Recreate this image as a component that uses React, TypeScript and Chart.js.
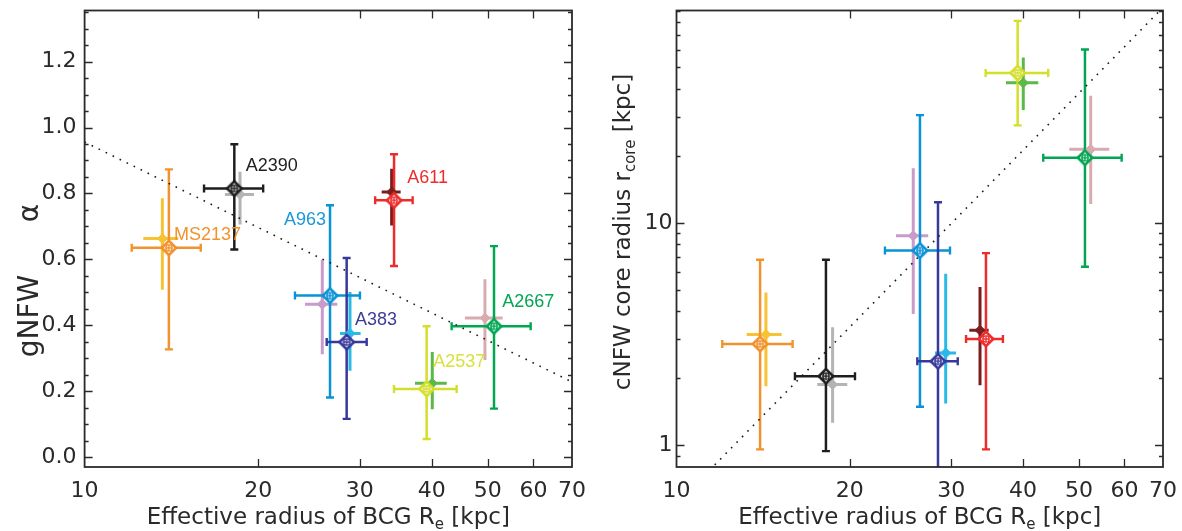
import React, { useEffect, useRef } from "react";
import { Chart, registerables } from "chart.js";
Chart.register(...registerables);

const FONT = "'Liberation Sans', Arial, Helvetica, sans-serif";
const AXFONT = "'DejaVu Sans', 'Liberation Sans', sans-serif";
const INK = "#2a2a2a";

// ---------------- data ----------------
const clusterNames = ["MS2137", "A2390", "A963", "A383", "A611", "A2537", "A2667"];
const primaryColors = ["#F0922E", "#1E1E1E", "#0A92D6", "#38389A", "#EE2B2B", "#D3DF2A", "#00A651"];
const secondaryColors = ["#F7C233", "#B4B4B4", "#C99BCB", "#2BB9E8", "#7B1E1E", "#5CB947", "#D9ABB1"];
const labelColors = ["#F0922E", "#1E1E1E", "#1A98D8", "#3C3C9C", "#EE2B2B", "#D7E23A", "#00A651"];

const xTickValues = [10, 20, 30, 40, 50, 60, 70];
const xInnerTicks = [20, 30, 40, 50, 60];
const alphaTickValues = [0, 0.2, 0.4, 0.6, 0.8, 1.0, 1.2];
const alphaMinorTicks = [0.05, 0.1, 0.15, 0.25, 0.3, 0.35, 0.45, 0.5, 0.55, 0.65, 0.7, 0.75, 0.85, 0.9, 0.95, 1.05, 1.1, 1.15, 1.25, 1.3, 1.35];
const rcoreTickValues = [1, 10];
const rcoreMinorTicks = [0.9, 2, 3, 4, 5, 6, 7, 8, 9, 20, 30, 40, 50, 60, 70, 80, 90];

// Left panel (gNFW alpha) – primary measurements
const alphaX = [14.0, 18.18, 26.64, 28.47, 34.4, 39.18, 51.27];
const alphaXLo = [12.07, 16.11, 23.16, 26.29, 31.9, 34.39, 43.29];
const alphaXHi = [15.9, 20.4, 30.02, 30.84, 37.05, 44.17, 59.35];
const alphaY = [0.635, 0.815, 0.49, 0.349, 0.779, 0.207, 0.397];
const alphaYLo = [0.327, 0.63, 0.181, 0.116, 0.58, 0.055, 0.147];
const alphaYHi = [0.873, 0.949, 0.764, 0.604, 0.919, 0.397, 0.64];
// Left panel – secondary measurements
const alpha2X = [13.64, 18.6, 25.83, 28.85, 34.07, 40.07, 49.45];
const alpha2XLo = [12.64, 17.51, 24.11, 27.72, 32.74, 37.4, 45.65];
const alpha2XHi = [14.54, 19.67, 27.43, 30.1, 35.32, 42.45, 53.07];
const alpha2Y = [0.663, 0.797, 0.464, 0.375, 0.804, 0.224, 0.422];
const alpha2YLo = [0.508, 0.706, 0.312, 0.262, 0.703, 0.145, 0.295];
const alpha2YHi = [0.785, 0.866, 0.599, 0.501, 0.875, 0.319, 0.54];
// Left panel – labels
const alphaLabelX = [14.29, 19.02, 22.17, 29.43, 36.27, 40.22, 52.99];
const alphaLabelY = [0.673, 0.883, 0.718, 0.417, 0.847, 0.287, 0.4705];
// Left panel – dotted relation
const alphaFitX = [10, 70];
const alphaFitY = [0.956, 0.228];

// Right panel (cNFW r_core) – primary
const rcX = [13.97, 18.18, 26.48, 28.46, 34.48, 39.14, 51.23];
const rcXLo = [12.01, 16.06, 23.02, 26.2, 31.84, 34.44, 43.36];
const rcXHi = [15.91, 20.42, 29.86, 30.8, 36.9, 44.23, 59.33];
const rcY = [2.858, 2.046, 7.51, 2.388, 3.01, 47.2, 19.63];
const rcYLo = [0.96, 0.943, 1.491, 0.5, 0.96, 27.42, 6.35];
const rcYHi = [6.83, 6.83, 30.5, 12.38, 7.31, 80.8, 60.1];
// Right panel – secondary
const rc2X = [14.3, 18.67, 25.78, 29.35, 33.67, 40.03, 52.42];
const rc2XLo = [13.24, 17.56, 24.06, 28.12, 32.26, 37.35, 48.12];
const rc2XHi = [15.23, 19.8, 27.37, 30.59, 34.85, 42.51, 56.46];
const rc2Y = [3.15, 1.877, 8.745, 2.604, 3.289, 42.57, 21.4];
const rc2YLo = [1.845, 1.264, 3.896, 1.543, 1.864, 32.11, 12.17];
const rc2YHi = [4.87, 3.393, 17.59, 5.905, 5.148, 55.35, 37.23];
// Right panel – dotted relation
const rcFitX = [10, 70];
const rcFitY = [0.546, 92.9];

// ---------------- helpers ----------------
function primaryMarker(color: string) {
  const c = document.createElement("canvas");
  const s = 20;
  c.width = s;
  c.height = s;
  const g = c.getContext("2d")!;
  const m = s / 2;
  const r = 7.2;
  g.strokeStyle = color;
  g.fillStyle = "#ffffff";
  g.lineWidth = 2.6;
  g.beginPath();
  g.moveTo(m, m - r);
  g.lineTo(m + r, m);
  g.lineTo(m, m + r);
  g.lineTo(m - r, m);
  g.closePath();
  g.fill();
  g.stroke();
  g.lineWidth = 1.3;
  g.beginPath();
  g.arc(m, m, 3.2, 0, Math.PI * 2);
  g.stroke();
  g.beginPath();
  g.moveTo(m - 3.2, m);
  g.lineTo(m + 3.2, m);
  g.moveTo(m, m - 3.2);
  g.lineTo(m, m + 3.2);
  g.stroke();
  return c;
}

type Part = { t: string; size: number; dy?: number };
function drawParts(ctx: CanvasRenderingContext2D, parts: Part[], cx: number, cy: number, rot: number, color: string) {
  ctx.save();
  ctx.translate(cx, cy);
  ctx.rotate(rot);
  ctx.fillStyle = color;
  ctx.textBaseline = "alphabetic";
  ctx.textAlign = "left";
  let total = 0;
  for (const p of parts) {
    ctx.font = `${p.size}px ${AXFONT}`;
    total += ctx.measureText(p.t).width;
  }
  let x = -total / 2;
  for (const p of parts) {
    ctx.font = `${p.size}px ${AXFONT}`;
    ctx.fillText(p.t, x, p.dy || 0);
    x += ctx.measureText(p.t).width;
  }
  ctx.restore();
}

function buildDatasets(
  xs: number[], xlo: number[], xhi: number[], ys: number[], ylo: number[], yhi: number[],
  xs2: number[], xlo2: number[], xhi2: number[], ys2: number[], ylo2: number[], yhi2: number[],
  fitX: number[], fitY: number[]
) {
  const ds: any[] = [];
  ds.push({
    type: "line",
    data: fitX.map((x, i) => ({ x, y: fitY[i] })),
    borderColor: "#1a1a1a",
    borderWidth: 1.6,
    borderDash: [1.6, 6.2],
    pointRadius: 0,
    fill: false,
    order: 10,
  });
  clusterNames.forEach((_, i) => {
    ds.push({
      type: "scatter",
      data: [{ x: xs2[i], y: ys2[i], xMin: xlo2[i], xMax: xhi2[i], yMin: ylo2[i], yMax: yhi2[i] }],
      pointStyle: "rectRot",
      pointRadius: 5,
      backgroundColor: secondaryColors[i],
      borderColor: secondaryColors[i],
      borderWidth: 1,
      errColor: secondaryColors[i],
      errWidth: 3,
      capped: false,
      order: 5,
    });
  });
  clusterNames.forEach((_, i) => {
    ds.push({
      type: "scatter",
      data: [{ x: xs[i], y: ys[i], xMin: xlo[i], xMax: xhi[i], yMin: ylo[i], yMax: yhi[i] }],
      pointStyle: primaryMarker(primaryColors[i]),
      pointRadius: 7,
      backgroundColor: primaryColors[i],
      borderColor: primaryColors[i],
      errColor: primaryColors[i],
      errWidth: 2.5,
      capped: true,
      order: 1,
    });
  });
  return ds;
}

const errorBarPlugin = {
  id: "errbars",
  beforeDatasetsDraw(chart: any) {
    const { ctx, chartArea } = chart;
    const xs = chart.scales.x;
    const ys = chart.scales.y;
    ctx.save();
    ctx.beginPath();
    ctx.rect(chartArea.left, chartArea.top, chartArea.right - chartArea.left, chartArea.bottom - chartArea.top);
    ctx.clip();
    const sets = chart.data.datasets.filter((d: any) => d.errColor);
    const ordered = [...sets.filter((d: any) => !d.capped), ...sets.filter((d: any) => d.capped)];
    for (const d of ordered) {
      const p = d.data[0];
      const px = xs.getPixelForValue(p.x);
      const py = ys.getPixelForValue(p.y);
      const x0 = xs.getPixelForValue(p.xMin);
      const x1 = xs.getPixelForValue(p.xMax);
      const y0 = ys.getPixelForValue(p.yMin);
      const y1 = ys.getPixelForValue(p.yMax);
      ctx.strokeStyle = d.errColor;
      ctx.lineWidth = d.errWidth;
      ctx.lineCap = "butt";
      ctx.beginPath();
      ctx.moveTo(x0, py);
      ctx.lineTo(x1, py);
      ctx.moveTo(px, y0);
      ctx.lineTo(px, y1);
      ctx.stroke();
      if (d.capped) {
        const c = 4;
        ctx.lineWidth = 2.4;
        ctx.beginPath();
        ctx.moveTo(x0, py - c);
        ctx.lineTo(x0, py + c);
        ctx.moveTo(x1, py - c);
        ctx.lineTo(x1, py + c);
        ctx.moveTo(px - c, y0);
        ctx.lineTo(px + c, y0);
        ctx.moveTo(px - c, y1);
        ctx.lineTo(px + c, y1);
        ctx.stroke();
      }
    }
    ctx.restore();
  },
};

const framePlugin = {
  id: "frame",
  afterDraw(chart: any) {
    const o = chart.options.plugins.frame;
    const { ctx, chartArea } = chart;
    const { left, right, top, bottom } = chartArea;
    const xs = chart.scales.x;
    const ys = chart.scales.y;
    ctx.save();
    ctx.strokeStyle = INK;
    ctx.lineWidth = 1.3;
    ctx.beginPath();
    for (const v of xInnerTicks) {
      const p = Math.round(xs.getPixelForValue(v)) + 0.5;
      ctx.moveTo(p, bottom);
      ctx.lineTo(p, bottom - 8);
      ctx.moveTo(p, top);
      ctx.lineTo(p, top + 8);
    }
    for (const v of o.yMajor) {
      const p = Math.round(ys.getPixelForValue(v)) + 0.5;
      if (p < top + 1 || p > bottom - 1) continue;
      ctx.moveTo(left, p);
      ctx.lineTo(left + 8, p);
      ctx.moveTo(right, p);
      ctx.lineTo(right - 8, p);
    }
    for (const v of o.yMinor) {
      const p = Math.round(ys.getPixelForValue(v)) + 0.5;
      if (p < top + 1 || p > bottom - 1) continue;
      ctx.moveTo(left, p);
      ctx.lineTo(left + 4, p);
      ctx.moveTo(right, p);
      ctx.lineTo(right - 4, p);
    }
    ctx.stroke();
    ctx.lineWidth = 1.8;
    ctx.strokeRect(left, top, right - left, bottom - top);
    ctx.restore();

    if (o.labels) {
      ctx.save();
      ctx.font = `18px ${FONT}`;
      ctx.textAlign = "left";
      ctx.textBaseline = "middle";
      o.labels.x.forEach((lx: number, i: number) => {
        ctx.fillStyle = labelColors[i];
        ctx.fillText(clusterNames[i], xs.getPixelForValue(lx), ys.getPixelForValue(o.labels.y[i]));
      });
      ctx.restore();
    }

    const cx = (left + right) / 2;
    drawParts(
      ctx,
      [
        { t: "Effective radius of BCG R", size: 23 },
        { t: "e", size: 15, dy: 5 },
        { t: " [kpc]", size: 23 },
      ],
      cx,
      bottom + 57,
      0,
      INK
    );
    for (const t of o.yTitles) {
      drawParts(ctx, t.parts, t.x, t.y, -Math.PI / 2, INK);
    }
  },
};

function makeConfig(datasets: any[], yScale: any, frameOpts: any, padRight: number, yWidth: number, yPad: number) {
  return {
    type: "scatter",
    data: { datasets },
    plugins: [errorBarPlugin, framePlugin],
    options: {
      animation: false,
      responsive: false,
      maintainAspectRatio: false,
      events: [],
      layout: { padding: { top: 10.5, right: padRight, left: 0, bottom: 0 } },
      plugins: { legend: { display: false }, tooltip: { enabled: false }, frame: frameOpts },
      scales: {
        x: {
          type: "logarithmic",
          min: 10,
          max: 70,
          grid: { display: false, drawTicks: false },
          border: { display: false },
          afterBuildTicks: (s: any) => {
            s.ticks = xTickValues.map((v) => ({ value: v }));
          },
          afterFit: (s: any) => {
            s.height = 64;
            s.paddingLeft = 0;
            s.paddingRight = 0;
          },
          ticks: {
            autoSkip: false,
            maxRotation: 0,
            padding: 11,
            color: INK,
            font: { family: AXFONT, size: 22 },
            callback: (v: any) => String(v),
          },
        },
        y: {
          ...yScale,
          grid: { display: false, drawTicks: false },
          border: { display: false },
          afterFit: (s: any) => {
            s.width = yWidth;
            s.paddingTop = 0;
            s.paddingBottom = 0;
          },
          ticks: {
            ...(yScale.ticks || {}),
            autoSkip: false,
            padding: yPad,
            color: INK,
            font: { family: AXFONT, size: 22 },
          },
        },
      },
    },
  };
}

function ChartCanvas({ cfg, left, width }: { cfg: () => any; left: number; width: number }) {
  const ref = useRef<HTMLCanvasElement | null>(null);
  useEffect(() => {
    if (!ref.current) return;
    const chart = new Chart(ref.current, cfg());
    return () => chart.destroy();
  }, []);
  return (
    <canvas
      ref={ref}
      width={width}
      height={531}
      style={{ position: "absolute", left, top: 0, width, height: 531 }}
    />
  );
}

const leftConfig = () =>
  makeConfig(
    buildDatasets(
      alphaX, alphaXLo, alphaXHi, alphaY, alphaYLo, alphaYHi,
      alpha2X, alpha2XLo, alpha2XHi, alpha2Y, alpha2YLo, alpha2YHi,
      alphaFitX, alphaFitY
    ),
    {
      type: "linear",
      min: -0.03,
      max: 1.355,
      afterBuildTicks: (s: any) => {
        s.ticks = alphaTickValues.map((v) => ({ value: v }));
      },
      ticks: { callback: (v: any) => Number(v).toFixed(1) },
    },
    {
      yMajor: alphaTickValues,
      yMinor: alphaMinorTicks,
      labels: { x: alphaLabelX, y: alphaLabelY },
      yTitles: [
        { parts: [{ t: "gNFW", size: 28 }], x: 38, y: 316 },
        { parts: [{ t: "\u03B1", size: 28 }], x: 38, y: 213 },
      ],
    },
    28,
    84.6,
    8
  );

const rightConfig = () =>
  makeConfig(
    buildDatasets(
      rcX, rcXLo, rcXHi, rcY, rcYLo, rcYHi,
      rc2X, rc2XLo, rc2XHi, rc2Y, rc2YLo, rc2YHi,
      rcFitX, rcFitY
    ),
    {
      type: "logarithmic",
      min: 0.8,
      max: 90,
      afterBuildTicks: (s: any) => {
        s.ticks = rcoreTickValues.map((v) => ({ value: v }));
      },
      ticks: { callback: (v: any) => String(v) },
    },
    {
      yMajor: rcoreTickValues,
      yMinor: rcoreMinorTicks,
      labels: null,
      yTitles: [
        {
          parts: [
            { t: "cNFW core radius r", size: 23 },
            { t: "core", size: 15, dy: 5 },
            { t: " [kpc]", size: 23 },
          ],
          x: 30,
          y: 232,
        },
      ],
    },
    19,
    76.5,
    4
  );

export default function App() {
  return (
    <div style={{ position: "fixed", left: 0, top: 0, width: 1182, height: 531, background: "#fff" }}>
      <ChartCanvas cfg={leftConfig} left={0} width={600} />
      <ChartCanvas cfg={rightConfig} left={600} width={582} />
    </div>
  );
}
